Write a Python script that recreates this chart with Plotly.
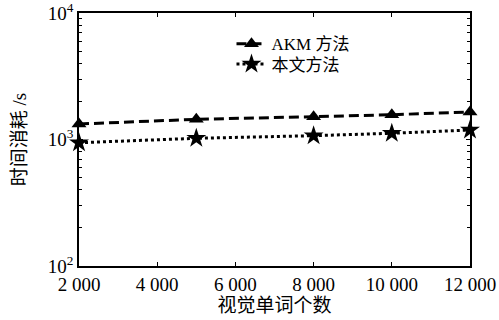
import plotly.graph_objects as go

# Vocabulary size (number of visual words)
words = [2000, 5000, 8000, 10000, 12000]
# Time cost in seconds
akm_time = [1326, 1445, 1515, 1570, 1650]
ours_time = [943, 1022, 1072, 1120, 1189]

x_ticks = [2000, 4000, 6000, 8000, 10000, 12000]
x_tick_text = ["2 000", "4 000", "6 000", "8 000", "10 000", "12 000"]
y_ticks = [100, 1000, 10000]
y_tick_text = ["10<sup>2</sup>", "10<sup>3</sup>", "10<sup>4</sup>"]

FONT = "Liberation Serif, Noto Sans CJK SC, serif"
FS = 19

fig = go.Figure()
fig.add_trace(go.Scatter(
    x=words, y=akm_time, name="AKM 方法", mode="lines+markers",
    line=dict(color="black", width=3, dash="10px,5px"),
    marker=dict(symbol="triangle-up", size=13, color="black"),
    cliponaxis=False, legend="legend",
))
fig.add_trace(go.Scatter(
    x=words, y=ours_time, name="本文方法", mode="lines+markers",
    line=dict(color="black", width=3, dash="3px,3px"),
    marker=dict(symbol="star", size=15, color="black"),
    cliponaxis=False, legend="legend2",
))

# Two single-entry legends so the rows can sit closer together
legend_common = dict(
    x=0.39, xanchor="left", yanchor="middle", bgcolor="rgba(0,0,0,0)",
    font=dict(size=17), itemwidth=30,
)
fig.update_layout(
    width=499, height=320,
    margin=dict(l=79, r=29, t=13, b=54),
    paper_bgcolor="white", plot_bgcolor="white",
    font=dict(family=FONT, size=FS, color="black"),
    showlegend=True,
    legend=dict(y=0.877, **legend_common),
    legend2=dict(y=0.797, **legend_common),
)
fig.update_xaxes(
    range=[2000, 12000], tickvals=x_ticks, ticktext=x_tick_text,
    showline=True, linecolor="black", linewidth=1.5, mirror="allticks",
    ticks="inside", ticklen=4, tickcolor="black", showgrid=False, zeroline=False,
    automargin=False, ticklabeloverflow="allow",
    title=dict(text="视觉单词个数", standoff=2, font=dict(size=FS)),
    tickfont=dict(size=FS),
)
fig.update_yaxes(
    type="log", range=[2, 4], tickvals=y_ticks, ticktext=y_tick_text,
    showline=True, linecolor="black", linewidth=1.5, mirror="allticks",
    ticks="inside", ticklen=4, tickcolor="black", showgrid=False, zeroline=False,
    automargin=False, ticklabeloverflow="allow",
    minor=dict(ticks="inside", ticklen=3, tickcolor="black",
               tickvals=[m * 10 ** e for e in (2, 3) for m in range(2, 10)]),
    title=dict(text="时间消耗 /s", standoff=16, font=dict(size=FS)),
    tickfont=dict(size=FS),
)

fig.write_html("out.html")
